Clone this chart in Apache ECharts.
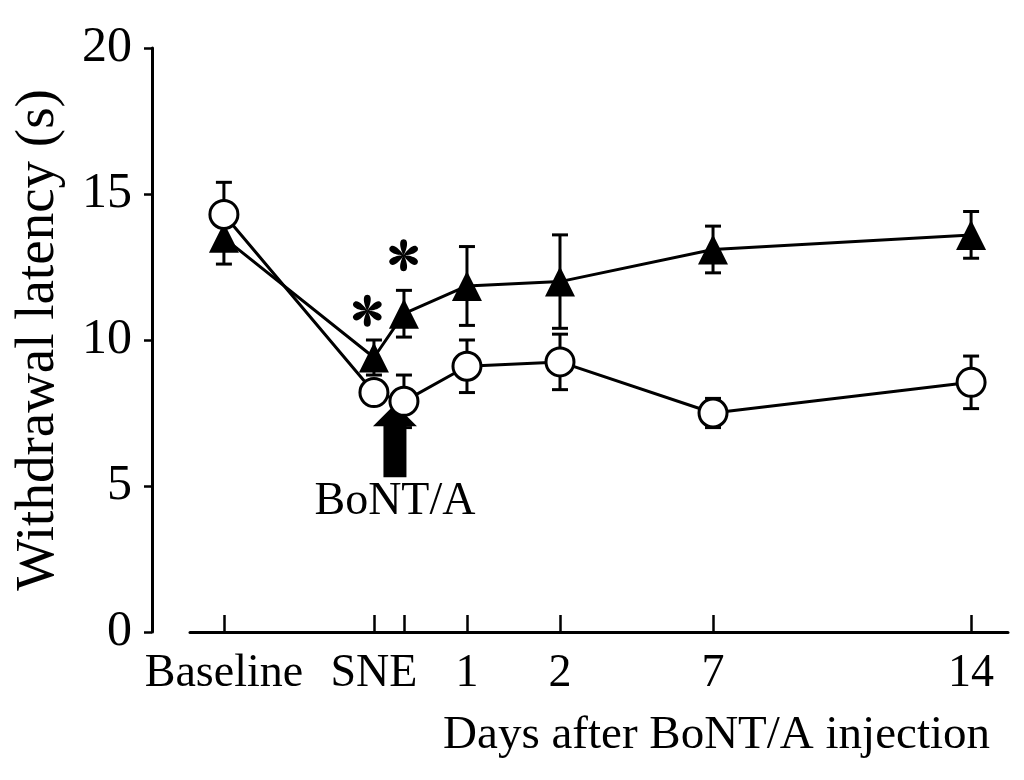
<!DOCTYPE html>
<html>
<head>
<meta charset="utf-8">
<script src="https://cdn.jsdelivr.net/npm/echarts@6.0.0/dist/echarts.min.js"></script>
<style>
  html, body { margin: 0; padding: 0; background: #fff; }
  #chart { width: 1024px; height: 780px; }
</style>
</head>
<body>
<div id="chart"></div>
<script>
// time points, placed along a plotting scale (baseline = 0)
const timeLabels = ['Baseline', 'SNE', '', '1', '2', '7', '14'];
const timePos = [0, 5, 6, 8.1, 11.2, 16.3, 24.9];

// open circles
const circleMean = [14.3, 8.2, 7.9, 9.1, 9.25, 7.5, 8.55];
const circleErr = [1.1, 0.4, 0.9, 0.9, 0.95, 0.5, 0.9];

// filled triangles
const triMean = [13.5, 9.4, 10.9, 11.85, 12.0, 13.1, 13.6];
const triErr = [0.9, 0.6, 0.8, 1.35, 1.6, 0.8, 0.8];

// significance marks
const starPos = [4.78, 5.99];
const starY = [11.0, 12.9];

// injection arrow: x, bottom, tip
const arrowPos = 5.7;
const arrowBottom = 5.3;
const arrowTip = 7.8;

const FONT = "'Liberation Serif', 'Times New Roman', serif";

const pairs = (ys) => ys.map((y, i) => [timePos[i], y]);
const bars = (ys, es) => ys.map((y, i) => [timePos[i], y - es[i], y + es[i]]);

// six-petal asterisk as a path symbol
function asteriskPath() {
  const R = 16, w = 6, c = 20;
  let d = '';
  for (let k = 0; k < 6; k++) {
    const a = k * Math.PI / 3;
    const dx = Math.sin(a), dy = -Math.cos(a);
    const px = Math.cos(a), py = Math.sin(a);
    const pt = (t, s) => (c + t * R * dx + s * w * px).toFixed(2) + ' ' + (c + t * R * dy + s * w * py).toFixed(2);
    d += 'M' + pt(0, 0) + ' C' + pt(0.3, -0.5) + ' ' + pt(1, -1) + ' ' + pt(1, 0) +
         ' C' + pt(1, 1) + ' ' + pt(0.3, 0.5) + ' ' + pt(0, 0) + ' Z ';
  }
  return 'path://' + d;
}

function errorBar(params, api) {
  const x = api.value(0);
  const lo = api.coord([x, api.value(1)]);
  const hi = api.coord([x, api.value(2)]);
  const half = 8;
  const style = { stroke: '#000', lineWidth: 3 };
  return {
    type: 'group',
    children: [
      { type: 'line', shape: { x1: lo[0], y1: lo[1], x2: hi[0], y2: hi[1] }, style },
      { type: 'line', shape: { x1: lo[0] - half, y1: lo[1], x2: lo[0] + half, y2: lo[1] }, style },
      { type: 'line', shape: { x1: hi[0] - half, y1: hi[1], x2: hi[0] + half, y2: hi[1] }, style }
    ]
  };
}

function arrow(params, api) {
  const tip = api.coord([api.value(0), api.value(2)]);
  const bot = api.coord([api.value(0), api.value(1)]);
  const cx = tip[0];
  const headW = 22, headH = 22, shaftW = 11.5;
  const pts = [
    [cx, tip[1]],
    [cx + headW, tip[1] + headH],
    [cx + shaftW, tip[1] + headH],
    [cx + shaftW, bot[1]],
    [cx - shaftW, bot[1]],
    [cx - shaftW, tip[1] + headH],
    [cx - headW, tip[1] + headH]
  ];
  return {
    type: 'group',
    children: [
      { type: 'polygon', shape: { points: pts }, style: { fill: '#000' } },
      {
        type: 'text',
        style: {
          x: cx, y: bot[1] + 2, text: 'BoNT/A',
          font: '46px ' + FONT, fill: '#000',
          textAlign: 'center', textVerticalAlign: 'top'
        }
      }
    ]
  };
}

const chart = echarts.init(document.getElementById('chart'));
chart.setOption({
  animation: false,
  backgroundColor: '#fff',
  grid: { left: 190, right: 16, top: 48, bottom: 148 },
  xAxis: {
    type: 'value',
    min: -1.13,
    max: 26.13,
    splitLine: { show: false },
    axisLine: { onZero: false, lineStyle: { color: '#000', width: 3 } },
    axisTick: {
      customValues: timePos,
      inside: true, length: 17,
      lineStyle: { color: '#000', width: 2.5 }
    },
    axisLabel: {
      customValues: timePos,
      margin: 19,
      color: '#000', fontSize: 46, fontFamily: FONT,
      formatter: (v) => {
        const i = timePos.findIndex((p) => Math.abs(p - v) < 1e-6);
        return i < 0 ? '' : timeLabels[i];
      }
    },
    name: 'Days after BoNT/A injection',
    nameLocation: 'end',
    nameGap: -18,
    nameTextStyle: {
      color: '#000', fontSize: 47, fontFamily: FONT,
      align: 'right', verticalAlign: 'top', padding: [80, 0, 0, 0]
    }
  },
  yAxis: {
    type: 'value',
    min: 0, max: 20, interval: 5,
    offset: 38,
    splitLine: { show: false },
    axisLine: { show: true, onZero: false, lineStyle: { color: '#000', width: 3 } },
    axisTick: { show: true, length: 8, lineStyle: { color: '#000', width: 2.5 } },
    axisLabel: { margin: 20, color: '#000', fontSize: 50, fontFamily: FONT },
    name: 'Withdrawal latency (s)',
    nameLocation: 'middle',
    nameRotate: 90,
    nameGap: 86,
    nameTextStyle: { color: '#000', fontSize: 55, fontFamily: FONT }
  },
  series: [
    {
      type: 'custom', name: 'arrow', z: 1,
      renderItem: arrow,
      data: [[arrowPos, arrowBottom, arrowTip]]
    },
    {
      type: 'custom', name: 'triangle error', z: 2,
      renderItem: errorBar,
      data: bars(triMean, triErr)
    },
    {
      type: 'line', name: 'triangles', z: 3,
      data: pairs(triMean),
      symbol: 'triangle', symbolSize: 30,
      itemStyle: { color: '#000' },
      lineStyle: { color: '#000', width: 3 }
    },
    {
      type: 'custom', name: 'circle error', z: 4,
      renderItem: errorBar,
      data: bars(circleMean, circleErr)
    },
    {
      type: 'line', name: 'circles', z: 5,
      data: pairs(circleMean),
      symbol: 'circle', symbolSize: 28,
      itemStyle: { color: '#fff', borderColor: '#000', borderWidth: 3 },
      lineStyle: { color: '#000', width: 3 }
    },
    {
      type: 'scatter', name: 'stars', z: 6,
      data: starPos.map((x, i) => [x, starY[i]]),
      symbol: asteriskPath(),
      symbolKeepAspect: true,
      symbolSize: 32,
      itemStyle: { color: '#000', opacity: 1 }
    }
  ]
});
</script>
</body>
</html>
